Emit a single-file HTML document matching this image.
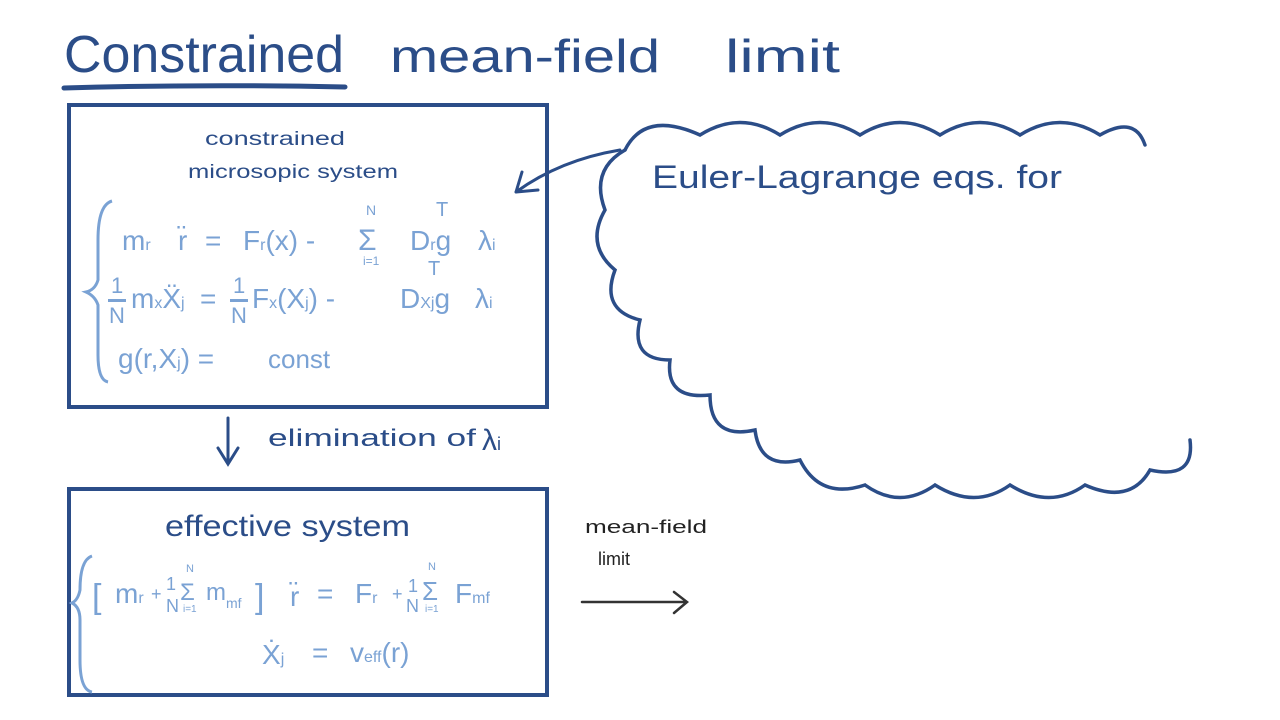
<!DOCTYPE html>
<html><head><meta charset="utf-8"><style>
html,body{margin:0;padding:0;background:#fff;}
svg{display:block;}
text{font-family:"Liberation Sans",sans-serif;}
.d{fill:#2b4d88;}
.l{fill:#7aa2d4;}
</style></head><body>
<svg width="1280" height="720" viewBox="0 0 1280 720">
<!-- title -->
<text x="64" y="72" class="d" font-size="52" textLength="280" lengthAdjust="spacingAndGlyphs">Constrained</text>
<text x="390" y="72" class="d" font-size="46" textLength="270" lengthAdjust="spacingAndGlyphs">mean-field</text>
<text x="725" y="72" class="d" font-size="46" textLength="115" lengthAdjust="spacingAndGlyphs">limit</text>
<path d="M64 88 Q200 84 345 87" stroke="#2b4d88" stroke-width="5" fill="none" stroke-linecap="round"/>
<!-- box1 -->
<rect x="69" y="105" width="478" height="302" fill="none" stroke="#2b4d88" stroke-width="4"/>
<text x="205" y="145" class="d" font-size="19" textLength="140" lengthAdjust="spacingAndGlyphs">constrained</text>
<text x="188" y="178" class="d" font-size="19" textLength="210" lengthAdjust="spacingAndGlyphs">microsopic system</text>
<path d="M112 201 Q98 205 98 240 L98 280 Q95 290 86 292 Q95 296 98 305 L98 355 Q98 380 108 382" stroke="#7aa2d4" stroke-width="3" fill="none"/>
<g class="l" font-size="28">
<text x="122" y="250">m<tspan font-size="16">r</tspan></text>
<text x="178" y="250">r̈</text>
<text x="205" y="250">=</text>
<text x="243" y="250">F<tspan font-size="16">r</tspan>(x) -</text>
<text x="358" y="250" font-size="30">Σ</text>
<text x="366" y="215" font-size="14">N</text>
<text x="363" y="265" font-size="12">i=1</text>
<text x="410" y="250">D<tspan font-size="16">r</tspan>g</text>
<text x="436" y="216" font-size="20">T</text>
<text x="478" y="250">λ<tspan font-size="16">i</tspan></text>
<text x="111" y="293" font-size="22">1</text>
<rect x="108" y="299" width="18" height="3" fill="#7aa2d4"/>
<text x="109" y="323" font-size="22">N</text>
<text x="131" y="308">m<tspan font-size="16">x</tspan>Ẍ<tspan font-size="16">j</tspan></text>
<text x="200" y="308">=</text>
<text x="233" y="293" font-size="22">1</text>
<rect x="230" y="299" width="18" height="3" fill="#7aa2d4"/>
<text x="231" y="323" font-size="22">N</text>
<text x="252" y="308">F<tspan font-size="16">x</tspan>(X<tspan font-size="16">j</tspan>) -</text>
<text x="400" y="308">D<tspan font-size="16">Xj</tspan>g</text>
<text x="428" y="275" font-size="20">T</text>
<text x="475" y="308">λ<tspan font-size="16">i</tspan></text>
<text x="118" y="368">g(r,X<tspan font-size="16">j</tspan>) =</text>
<text x="268" y="368" font-size="26">const</text>
</g>
<!-- down arrow -->
<path d="M228 418 L228 463 M218 448 L228 464 L238 448" stroke="#2b4d88" stroke-width="3" fill="none" stroke-linecap="round"/>
<text x="268" y="446" class="d" font-size="24" textLength="208" lengthAdjust="spacingAndGlyphs">elimination of</text>
<text x="482" y="450" class="d" font-size="30">λ<tspan font-size="18">i</tspan></text>
<!-- box2 -->
<rect x="69" y="489" width="478" height="206" fill="none" stroke="#2b4d88" stroke-width="4"/>
<text x="165" y="536" class="d" font-size="30" textLength="245" lengthAdjust="spacingAndGlyphs">effective system</text>
<path d="M92 556 Q80 560 80 590 Q78 600 72 603 Q80 607 80 620 L80 660 Q80 690 92 692" stroke="#7aa2d4" stroke-width="3" fill="none"/>
<g class="l" font-size="28">
<text x="92" y="608" font-size="34">[</text>
<text x="115" y="603">m<tspan font-size="16">r</tspan></text>
<text x="151" y="600" font-size="18">+</text>
<text x="166" y="590" font-size="18">1</text>
<text x="166" y="612" font-size="18">N</text>
<text x="180" y="600" font-size="24">Σ</text>
<text x="186" y="572" font-size="11">N</text>
<text x="183" y="612" font-size="10">i=1</text>
<text x="206" y="600" font-size="24">m<tspan font-size="14" dy="8">mf</tspan></text>
<text x="255" y="608" font-size="34">]</text>
<text x="290" y="606">r̈</text>
<text x="317" y="603">=</text>
<text x="355" y="603">F<tspan font-size="16">r</tspan></text>
<text x="392" y="600" font-size="18">+</text>
<text x="408" y="592" font-size="18">1</text>
<text x="406" y="612" font-size="18">N</text>
<text x="422" y="600" font-size="26">Σ</text>
<text x="428" y="570" font-size="11">N</text>
<text x="425" y="612" font-size="10">i=1</text>
<text x="455" y="603">F<tspan font-size="16">mf</tspan></text>
<text x="262" y="664">Ẋ<tspan font-size="16">j</tspan></text>
<text x="312" y="662">=</text>
<text x="350" y="662">v<tspan font-size="16">eff</tspan>(r)</text>
</g>
<!-- mean-field limit -->
<text x="585" y="533" fill="#222" font-size="18" textLength="122" lengthAdjust="spacingAndGlyphs">mean-field</text>
<text x="598" y="565" fill="#222" font-size="18">limit</text>
<path d="M582 602 L686 602 M674 592 L687 602 L674 613" stroke="#333" stroke-width="2.5" fill="none" stroke-linecap="round"/>
<!-- cloud -->
<path d="M625 150 Q645 110 700 135 Q740 110 780 135 Q820 110 860 135 Q900 110 940 135 Q980 110 1020 135 Q1060 110 1100 135 Q1135 115 1145 145" stroke="#2b4d88" stroke-width="3.5" fill="none" stroke-linecap="round"/>
<path d="M625 150 Q590 170 605 210 Q585 245 615 270 Q600 310 640 320 Q630 360 670 360 Q665 400 710 395 Q710 440 755 430 Q760 470 800 460 Q820 500 865 485 Q900 510 935 485 Q975 510 1010 485 Q1050 510 1085 485 Q1130 505 1150 470 Q1195 480 1190 440" stroke="#2b4d88" stroke-width="3.5" fill="none" stroke-linecap="round"/>
<text x="652" y="188" class="d" font-size="32" textLength="410" lengthAdjust="spacingAndGlyphs">Euler-Lagrange eqs. for</text>
<path d="M620 150 Q560 160 516 192 M516 192 L538 190 M516 192 L522 172" stroke="#2b4d88" stroke-width="3" fill="none" stroke-linecap="round"/>
</svg>
</body></html>
